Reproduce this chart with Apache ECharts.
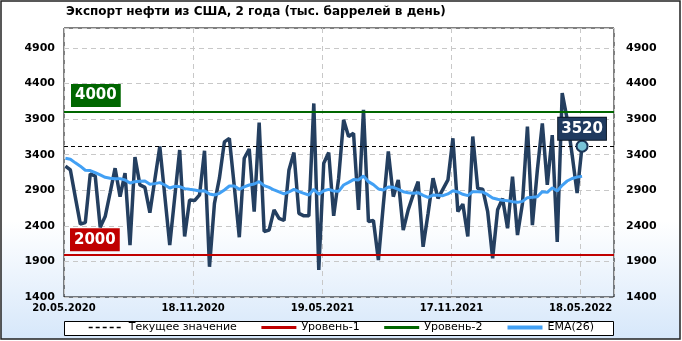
<!DOCTYPE html>
<html>
<head>
<meta charset="utf-8">
<script src="https://cdn.jsdelivr.net/npm/echarts@6/dist/echarts.min.js"></script>
<style>
  html, body { margin: 0; padding: 0; background: #fff; }
  #chart { width: 682px; height: 341px; }
</style>
</head>
<body>
<div id="chart"></div>
<script>
// weekly exports, thousand barrels per day (first week 22.05.2020)
const startDate = '2020-05-22';
const exportValues = [
  3240, 3185, 2800, 2425, 2445, 3130, 3100, 2380, 2530, 2865,
  3210, 2810, 3140, 2130, 3365, 2975, 2940, 2585, 3050, 3515,
  2825, 2130, 2800, 3465, 2250, 2765, 2755, 2835, 3455, 1825,
  2715, 3070, 3580, 3630, 2950, 2240, 3350, 3480, 2600, 3850,
  2320, 2340, 2625, 2505, 2475, 3185, 3430, 2575, 2540, 2540,
  4120, 1780, 3280, 3430, 2540, 3070, 3890, 3655, 3700, 2625,
  4030, 2460, 2475, 1920, 2700, 3445, 2810, 3045, 2340, 2625,
  2835, 3020, 2105, 2575, 3070, 2785, 2915, 3045, 3630, 2600,
  2705, 2250, 3655, 2925, 2915, 2600, 1945, 2625, 2785, 2365,
  3090, 2270, 2715, 3795, 2410, 3185, 3840, 2975, 3675, 2175,
  4265, 3900, 3400, 2860, 3520
];
const emaValues = [
  3350, 3336, 3285, 3238, 3181, 3177, 3148, 3115, 3082, 3068,
  3063, 3063, 3045, 3002, 3021, 3026, 3031, 2984, 2993, 3007,
  2974, 2932, 2955, 2951, 2923, 2913, 2904, 2890, 2894, 2848,
  2833, 2857, 2904, 2960, 2960, 2913, 2946, 2974, 2988, 3021,
  2965, 2941, 2904, 2876, 2848, 2876, 2913, 2880, 2857, 2833,
  2913, 2843, 2894, 2913, 2890, 2885, 2974, 3011, 3050, 3045,
  3100, 3021, 2979, 2918, 2904, 2946, 2941, 2913, 2880, 2866,
  2857, 2866, 2829, 2801, 2833, 2829, 2824, 2848, 2894, 2876,
  2843, 2824, 2880, 2880, 2876, 2838, 2791, 2773, 2758, 2754,
  2740, 2730, 2744, 2796, 2801, 2810, 2880, 2870, 2935, 2890,
  2970, 3030, 3065, 3085, 3095
];
const level1 = 2000;
const level2 = 4000;
const xTickLabels = ['20.05.2020', '18.11.2020', '19.05.2021', '17.11.2021', '18.05.2022'];
const yTicks = [1400, 1900, 2400, 2900, 3400, 3900, 4400, 4900];
const legendNames = ['Текущее значение', 'Уровень-1', 'Уровень-2', 'EMA(26)'];

// x axis counts days from 20.05.2020 (first tick label)
const axisStart = Date.UTC(2020, 4, 20);
const DAY = 86400000;
const weekDays = exportValues.map((v, i) => {
  const t = Date.parse(startDate) + i * 7 * DAY;
  return Math.round((t - axisStart) / DAY);
});
const lastValue = exportValues[exportValues.length - 1];
const lastDay = weekDays[weekDays.length - 1];

const font = 'DejaVu Sans';
const chart = echarts.init(document.getElementById('chart'), null, { renderer: 'canvas' });

const option = {
  animation: false,
  textStyle: { fontFamily: font },
  graphic: [{
    type: 'rect',
    z: -10,
    silent: true,
    shape: { x: 1, y: 1, width: 679, height: 338 },
    style: {
      fill: new echarts.graphic.LinearGradient(0, 0, 0, 1, [
        { offset: 0, color: '#ffffff' },
        { offset: 0.65, color: '#ffffff' },
        { offset: 1, color: '#d6e7fa' }
      ]),
      stroke: '#222',
      lineWidth: 1.5
    }
  }, {
    type: 'rect',
    z: -5,
    silent: true,
    shape: { x: 64.5, y: 321.5, width: 549, height: 14 },
    style: { fill: '#fff', stroke: '#000', lineWidth: 1 }
  }],
  title: {
    text: 'Экспорт нефти из США, 2 года (тыс. баррелей в день)',
    left: 66,
    top: 6,
    padding: 0,
    textStyle: { fontSize: 12, fontWeight: 'bold', color: '#000', fontFamily: font }
  },
  legend: {
    data: [
      { name: legendNames[0], lineStyle: { width: 1.5 } },
      { name: legendNames[1], lineStyle: { width: 3 } },
      { name: legendNames[2], lineStyle: { width: 3 } },
      { name: legendNames[3], lineStyle: { width: 4 } }
    ],
    left: 'center',
    top: 322,
    padding: 0,
    itemWidth: 35,
    itemHeight: 12,
    itemGap: 23,
    selectedMode: false,
    itemStyle: { opacity: 0 },
    textStyle: { fontSize: 11, color: '#000', fontFamily: font }
  },
  grid: {
    left: 64,
    right: 68,
    top: 28,
    bottom: 44,
    show: true,
    borderColor: '#000',
    borderWidth: 1,
    backgroundColor: 'transparent'
  },
  xAxis: {
    type: 'value',
    min: 0,
    max: 775,
    interval: 182,
    axisLine: { show: false },
    axisTick: { show: false },
    axisLabel: {
      margin: 6,
      fontSize: 10,
      fontWeight: 'bold',
      color: '#000',
      showMaxLabel: false,
      formatter: v => xTickLabels[Math.round(v / 182)] || ''
    },
    splitLine: { show: true, lineStyle: { color: '#c8c8c8', type: [5, 4] } }
  },
  yAxis: [{
    type: 'value',
    position: 'left',
    min: yTicks[0],
    max: 5180,
    interval: 500,
    axisLine: { show: false },
    axisTick: { show: false },
    axisLabel: {
      margin: 9,
      fontSize: 11,
      fontWeight: 'bold',
      color: '#000',
      showMaxLabel: false,
      formatter: v => (yTicks.includes(v) ? String(v) : '')
    },
    splitLine: { show: true, lineStyle: { color: '#c8c8c8', type: [5, 4] } }
  }, {
    type: 'value',
    position: 'right',
    min: yTicks[0],
    max: 5180,
    interval: 500,
    axisLine: { show: false },
    axisTick: { show: false },
    axisLabel: {
      margin: 12,
      fontSize: 11,
      fontWeight: 'bold',
      color: '#000',
      showMaxLabel: false,
      formatter: v => (yTicks.includes(v) ? String(v) : '')
    },
    splitLine: { show: false }
  }],
  series: [
    {
      name: legendNames[0],
      type: 'line',
      data: [],
      symbol: 'none',
      color: '#000',
      lineStyle: { color: '#000', width: 1, type: [4, 3] },
      z: 1,
      markLine: {
        silent: true,
        symbol: 'none',
        label: { show: false },
        lineStyle: { color: '#000', width: 1, type: [4, 3] },
        data: [{ yAxis: lastValue }]
      }
    },
    {
      name: legendNames[1],
      type: 'line',
      data: [],
      symbol: 'none',
      color: '#c00000',
      lineStyle: { color: '#c00000', width: 2 },
      z: 1,
      markLine: {
        silent: true,
        symbol: 'none',
        lineStyle: { color: '#c00000', width: 2, type: 'solid' },
        label: {
          position: 'insideStartTop',
          distance: [6, 3],
          formatter: String(level1),
          color: '#fff',
          fontSize: 15,
          fontWeight: 'bold',
          fontFamily: font,
          backgroundColor: '#c00000',
          padding: [2, 4, 2, 4],
          lineHeight: 19
        },
        data: [{ yAxis: level1 }]
      }
    },
    {
      name: legendNames[2],
      type: 'line',
      data: [],
      symbol: 'none',
      color: '#006600',
      lineStyle: { color: '#006600', width: 2 },
      z: 1,
      markLine: {
        silent: true,
        symbol: 'none',
        lineStyle: { color: '#006600', width: 2, type: 'solid' },
        label: {
          position: 'insideStartTop',
          distance: [7, 5],
          formatter: String(level2),
          color: '#fff',
          fontSize: 15,
          fontWeight: 'bold',
          fontFamily: font,
          backgroundColor: '#006600',
          padding: [2, 4, 2, 4],
          lineHeight: 19
        },
        data: [{ yAxis: level2 }]
      }
    },
    {
      name: 'Экспорт',
      type: 'line',
      data: weekDays.map((d, i) => [d, exportValues[i]]),
      symbol: 'none',
      color: '#243f60',
      lineStyle: { color: '#243f60', width: 3.5 },
      z: 3
    },
    {
      name: legendNames[3],
      type: 'line',
      data: weekDays.map((d, i) => [d, emaValues[i]]),
      symbol: 'none',
      color: '#42a0f4',
      lineStyle: { color: '#42a0f4', width: 3 },
      z: 4
    },
    {
      name: 'last',
      type: 'scatter',
      data: [[lastDay, lastValue]],
      symbol: 'circle',
      symbolSize: 11,
      itemStyle: { color: '#78c4d8', borderColor: '#1b3658', borderWidth: 2, opacity: 1 },
      z: 6,
      label: {
        show: true,
        position: 'top',
        distance: 0,
        formatter: String(lastValue),
        color: '#fff',
        fontSize: 15,
        fontWeight: 'bold',
        fontFamily: font,
        backgroundColor: '#1f3a5f',
        borderColor: '#0b1726',
        borderWidth: 1,
        padding: [2, 3, 1, 3],
        lineHeight: 19,
        opacity: 1
      }
    }
  ]
};

chart.setOption(option);
</script>
</body>
</html>
